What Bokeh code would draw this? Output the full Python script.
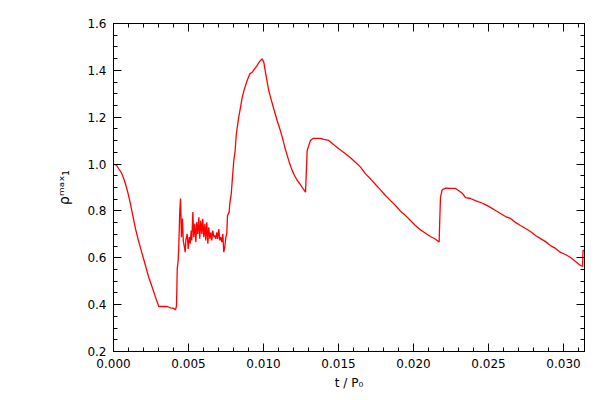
from bokeh.plotting import figure
from bokeh.models import (LinearAxis, FixedTicker, PrintfTickFormatter, Range1d,
                          CustomLabelingPolicy)
from bokeh.embed import file_html
from bokeh.resources import INLINE

# time (t / P0) and rho_max_1
t = [0.0, 0.0002, 0.00035, 0.00051, 0.00065, 0.0008, 0.00095, 0.00113, 0.00131, 0.00147,
     0.00169, 0.00191, 0.00213, 0.00235, 0.00258, 0.0028, 0.00302, 0.00358, 0.0038, 0.00402,
     0.00413, 0.0042, 0.00425, 0.00431, 0.00435,
     0.00442, 0.00447, 0.00453, 0.0046, 0.00465, 0.00471, 0.00478, 0.00482, 0.00491, 0.00498,
     0.00505, 0.00511, 0.00518, 0.00522, 0.00529, 0.00535, 0.00542, 0.00549, 0.00555, 0.00562,
     0.00569, 0.00575, 0.00582, 0.00589, 0.00595, 0.00602, 0.00609, 0.00615, 0.00622, 0.00629,
     0.00635, 0.00642, 0.00649, 0.00655, 0.00662, 0.00669, 0.00675, 0.00682, 0.00689, 0.00695,
     0.00702, 0.00709, 0.00715, 0.00722, 0.00729, 0.00735, 0.00742, 0.00749, 0.00755, 0.0076,
     0.00771, 0.00775,
     0.00785, 0.00795, 0.00802, 0.00811, 0.00818, 0.00825, 0.00835, 0.00847, 0.00858, 0.00873,
     0.00891, 0.00909, 0.00925, 0.00942, 0.00958, 0.00975, 0.00991, 0.01002, 0.01015, 0.01025,
     0.01035, 0.01047, 0.01062, 0.01075, 0.01091, 0.01109, 0.01125, 0.01142, 0.01158, 0.01175,
     0.01191, 0.01207, 0.01225, 0.01242, 0.01258, 0.01273, 0.0128,
     0.01287, 0.01291, 0.01302, 0.01313, 0.01331, 0.0138, 0.01402, 0.01435, 0.01469, 0.01502,
     0.01547, 0.0158, 0.01613, 0.01647, 0.0168, 0.01713, 0.01747, 0.0178, 0.01813, 0.01847,
     0.0188, 0.01913, 0.01947, 0.0198, 0.02013, 0.02047, 0.0208, 0.02113, 0.02147, 0.02171,
     0.02175, 0.0218, 0.02191, 0.02213, 0.02247, 0.0228, 0.023, 0.02327, 0.02347, 0.0238,
     0.02413, 0.02447, 0.0248, 0.02513, 0.02547, 0.0258, 0.02613, 0.02647, 0.0268, 0.02713,
     0.02747, 0.0278, 0.02813, 0.02847, 0.0288, 0.02913, 0.02947, 0.0298, 0.03013, 0.03047,
     0.0308, 0.03113, 0.03127, 0.0313, 0.0314]

rho = [1.0, 0.995, 0.98, 0.965, 0.944, 0.915, 0.88, 0.83, 0.773, 0.723,
       0.667, 0.617, 0.567, 0.517, 0.474, 0.432, 0.392, 0.392, 0.386, 0.384,
       0.378, 0.395, 0.553, 0.588, 0.645,
       0.802, 0.853, 0.688, 0.768, 0.674, 0.652, 0.624, 0.674, 0.702, 0.638,
       0.688, 0.66, 0.716, 0.674, 0.795, 0.688, 0.745, 0.667, 0.752, 0.702,
       0.773, 0.681, 0.759, 0.702, 0.766, 0.688, 0.745, 0.674, 0.752, 0.66,
       0.73, 0.681, 0.709, 0.674, 0.716, 0.688, 0.695, 0.681, 0.709, 0.681,
       0.723, 0.674, 0.688, 0.667, 0.702, 0.624, 0.645, 0.688, 0.702, 0.78,
       0.795, 0.83,
       0.873, 0.958, 1.015, 1.058, 1.122, 1.157, 1.2, 1.243, 1.285, 1.321,
       1.357, 1.385, 1.392, 1.407, 1.421, 1.439, 1.449, 1.435, 1.385, 1.349,
       1.314, 1.285, 1.25, 1.221, 1.186, 1.15, 1.115, 1.072, 1.037, 1.001,
       0.973, 0.951, 0.93, 0.916, 0.901, 0.887, 0.88,
       0.987, 1.058, 1.079, 1.101, 1.11, 1.11, 1.105, 1.101, 1.082, 1.065,
       1.044, 1.027, 1.008, 0.987, 0.958, 0.937, 0.913, 0.89, 0.866, 0.844,
       0.823, 0.799, 0.78, 0.759, 0.738, 0.719, 0.705, 0.691, 0.679, 0.667,
       0.759, 0.859, 0.89, 0.897, 0.896, 0.896, 0.887, 0.874, 0.857, 0.853,
       0.844, 0.836, 0.827, 0.815, 0.802, 0.789, 0.776, 0.768, 0.751, 0.738,
       0.725, 0.712, 0.695, 0.682, 0.669, 0.652, 0.64, 0.623, 0.614, 0.601,
       0.584, 0.567, 0.563, 0.631, 0.631]

x_major = [0.0, 0.005, 0.010, 0.015, 0.020, 0.025, 0.030]
x_minor = [i * 0.001 for i in range(0, 32)]
y_major = [0.2, 0.4, 0.6, 0.8, 1.0, 1.2, 1.4, 1.6]
y_minor = [0.2 + i * 0.05 for i in range(0, 29)]

X_RANGE = (0.0, 0.0314)
Y_RANGE = (0.2, 1.6)

X_LABEL = "t / P\u2080"
Y_LABEL = "\u03c1\u1d50\u1d43\u02e3\u2081"

FONT = "DejaVu Sans"

p = figure(width=592, height=392, output_backend="svg", toolbar_location=None,
           x_range=Range1d(*X_RANGE), y_range=Range1d(*Y_RANGE),
           x_axis_location=None, y_axis_location=None,
           min_border_left=113, min_border_right=8, min_border_top=23, min_border_bottom=41)
p.background_fill_color = "white"
p.border_fill_color = "white"
p.outline_line_color = "black"
p.grid.visible = False

hide_all = CustomLabelingPolicy(code="for (const i of indices) indices.unset(i)")

def make_axis(ticks, minor, fmt, show_labels):
    ax = LinearAxis(ticker=FixedTicker(ticks=ticks, minor_ticks=minor),
                    formatter=PrintfTickFormatter(format=fmt))
    ax.axis_line_color = "black"
    ax.major_tick_line_color = "black"
    ax.minor_tick_line_color = "black"
    ax.major_tick_in = 8
    ax.major_tick_out = 0
    ax.minor_tick_in = 4
    ax.minor_tick_out = 0
    ax.major_label_text_font = FONT
    ax.major_label_text_color = "black"
    if show_labels:
        ax.major_label_text_font_size = "12px"
        ax.major_label_standoff = 7
    else:
        ax.major_label_text_font_size = "1px"
        ax.major_label_policy = hide_all
        ax.major_label_standoff = 0
    return ax

xb = make_axis(x_major, x_minor, "%.3f", True)
xb.axis_label = X_LABEL
xb.axis_label_text_font = FONT
xb.axis_label_text_font_size = "12px"
xb.axis_label_text_font_style = "normal"
xb.axis_label_text_color = "black"
xb.axis_label_standoff = 5
p.add_layout(xb, "below")
p.add_layout(make_axis(x_major, x_minor, "%.3f", False), "above")

yl = make_axis(y_major, y_minor, "%.1f", True)
yl.axis_label = Y_LABEL
yl.axis_label_text_font = FONT
yl.axis_label_text_font_size = "14px"
yl.axis_label_text_font_style = "normal"
yl.axis_label_text_color = "black"
yl.axis_label_standoff = 12
p.add_layout(yl, "left")
p.add_layout(make_axis(y_major, y_minor, "%.1f", False), "right")

p.line(t, rho, line_color="red", line_width=1.3)

open("out.html", "w").write(file_html(p, INLINE))
